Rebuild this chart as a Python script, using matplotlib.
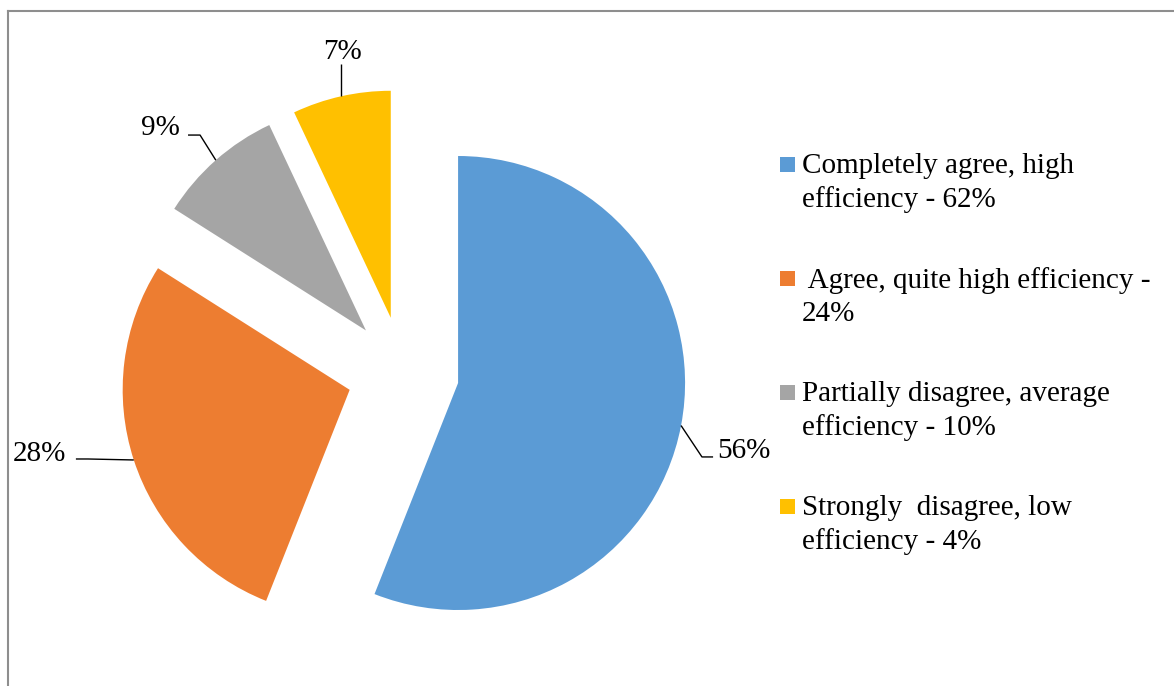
import numpy as np
import matplotlib
matplotlib.use("Agg")
import matplotlib.pyplot as plt
from matplotlib.patches import Rectangle
from matplotlib.lines import Line2D

# survey answers: share of responses per category (pie), legend carries its own figures
shares = [56, 28, 9, 7]
slice_labels = ["56%", "28%", "9%", "7%"]
legend_labels = [
    "Completely agree, high\nefficiency - 62%",
    " Agree, quite high efficiency -\n24%",
    "Partially disagree, average\nefficiency - 10%",
    "Strongly  disagree, low\nefficiency - 4%",
]
colors = ["#5B9BD5", "#ED7D31", "#A5A5A5", "#FFC000"]

W, H, DPI = 1174, 686, 100
R_PX = 227.0                 # pie radius in pixels
CX, CY = 403.0, 372.5        # pie centre in pixels (from top-left)
EXPLODE = 0.247

plt.rcParams["font.family"] = ["Liberation Serif", "DejaVu Serif"]
FS = 21

fig = plt.figure(figsize=(W / DPI, H / DPI), dpi=DPI)
ax = fig.add_axes([0, 0, 1, 1])

ax.pie(shares, colors=colors, startangle=90, counterclock=False,
       explode=[EXPLODE] * len(shares), radius=1.0,
       wedgeprops=dict(linewidth=0), center=(0, 0))

# pie() resets the limits, so fix the pixel mapping afterwards
ax.set_xlim(-CX / R_PX, (W - CX) / R_PX)
ax.set_ylim(-(H - CY) / R_PX, CY / R_PX)
ax.set_aspect("equal", adjustable="box")
ax.axis("off")

# label placement: (text x, text y, alignment, elbow points) in pie units
label_layout = [
    (1.383, -0.345, "left", [(1.317, -0.372), (1.366, -0.372)]),
    (-1.485, -0.361, "right", [(-1.388, -0.381), (-1.441, -0.381)]),
    (-0.982, 1.077, "right", [(-0.894, 1.046), (-0.947, 1.046)]),
    (-0.267, 1.411, "center", None),
]

cum = np.cumsum([0] + shares) / sum(shares)
for i, (txt, (tx, ty, ha, elbow)) in enumerate(zip(slice_labels, label_layout)):
    mid = np.deg2rad(90 - 360 * (cum[i] + cum[i + 1]) / 2)
    ux, uy = np.cos(mid), np.sin(mid)
    # arc point on the exploded wedge
    ax0 = ux * (1 + EXPLODE)
    ay0 = uy * (1 + EXPLODE)
    if elbow is None:
        xs, ys = [ax0, ax0], [ay0, ty - 0.052]
    else:
        xs = [ax0] + [p[0] for p in elbow]
        ys = [ay0] + [p[1] for p in elbow]
    ax.plot(xs, ys, color="black", lw=1.0, solid_capstyle="butt")
    ax.text(tx, ty, txt, ha=ha, va="center", fontsize=FS, color="black")

# legend: colour squares with wrapped text on the right
leg_x_box = 780 / W
leg_x_txt = 802 / W
leg_y0 = 164.0
leg_step = 114.0
box = 15.0
for i, (lab, col) in enumerate(zip(legend_labels, colors)):
    yc = leg_y0 + i * leg_step
    fig.patches.append(Rectangle((leg_x_box, 1 - (yc + box / 2) / H), box / W, box / H,
                                 transform=fig.transFigure, facecolor=col,
                                 edgecolor="none"))
    fig.text(leg_x_txt, 1 - (yc - 11) / H, lab, ha="left", va="top",
             fontsize=FS, color="black", linespacing=1.33)

# chart-area frame (left and top edges fall inside the canvas)
frame_kw = dict(transform=fig.transFigure, color="#8E8E8E", lw=1.5)
fig.add_artist(Line2D([8 / W, 8 / W], [0, 1 - 11 / H], **frame_kw))
fig.add_artist(Line2D([8 / W, 1], [1 - 11 / H, 1 - 11 / H], **frame_kw))

fig.savefig("out.png", dpi=DPI, facecolor="white")
